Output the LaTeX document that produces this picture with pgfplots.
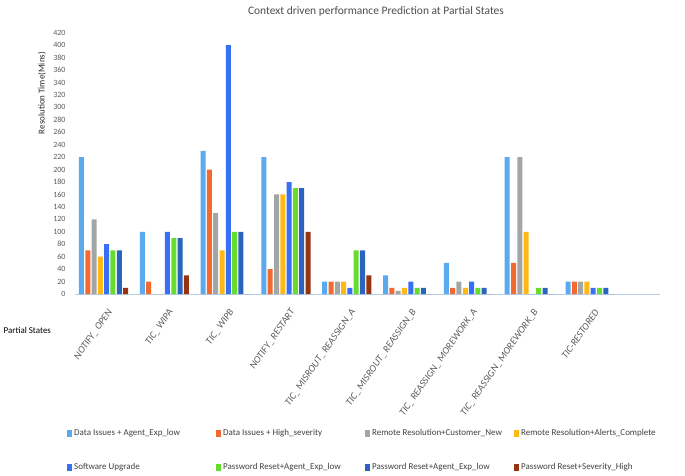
\documentclass[border=0pt]{standalone}
\usepackage{pgfplots}
\pgfplotsset{compat=1.18}
\usepackage{pgfplotstable}
\usepackage{fontspec}
\setmainfont{Carlito}

\definecolor{cA}{RGB}{91,170,240}
\definecolor{cB}{RGB}{242,106,48}
\definecolor{cC}{RGB}{163,166,166}
\definecolor{cD}{RGB}{255,184,20}
\definecolor{cE}{RGB}{55,112,245}
\definecolor{cF}{RGB}{102,220,44}
\definecolor{cG}{RGB}{42,100,192}
\definecolor{cH}{RGB}{150,52,16}
\definecolor{txt}{RGB}{89,89,89}
\definecolor{baseline}{RGB}{180,205,230}

% resolution time (mins) per partial state
\pgfplotstableread{
cat a   b   c   d   e   f   g   h
0   220 70  120 60  80  70  70  10
1   100 20  0   0   100 90  90  30
2   230 200 130 70  400 100 100 0
3   220 40  160 160 180 170 170 100
4   20  20  20  20  10  70  70  30
5   30  10  5   10  20  10  10  0
6   50  10  20  10  20  10  10  0
7   220 50  220 100 0   10  10  0
8   20  20  20  20  10  10  10  0
}\data

\newcommand{\entry}[1]{\makebox[140bp][l]{#1}}

\begin{document}
\begin{tikzpicture}
\useasboundingbox (0,0) rectangle (685bp,476bp);
\begin{axis}[
  at={(75bp,182bp)}, anchor=south west,
  scale only axis,
  width=585bp, height=261.3bp,
  xmin=-0.469, xmax=9.15,
  ymin=0, ymax=420,
  ybar=1.3bp, bar width=5bp,
  axis x line*=bottom, axis y line*=left,
  x axis line style={draw=baseline, line width=1pt},
  y axis line style={draw=none},
  major tick length=0pt,
  ytick={0,20,...,420},
  xtick={0,...,8},
  xticklabels={NOTIFY\_\,OPEN, TIC\_\,WIPA, TIC\_\,WIPB, NOTIFY\_\,RESTART,
    TIC\_\,MISROUT\_\,REASSIGN\_A, TIC\_\,MISROUT\_\,REASSIGN\_B,
    TIC\_\,REASSIGN\_\,MOREWORK\_A, TIC\_\,REASSIGN\_\,MOREWORK\_B, TIC-RESTORED},
  xticklabel style={rotate=55, anchor=east, font=\fontsize{10}{11}\selectfont\itshape,
    text=txt, yshift=-15bp, xshift=-6bp},
  yticklabel style={font=\fontsize{8}{9}\selectfont, text=txt, xshift=-6bp},
  /pgf/number format/assume math mode=true,
  ylabel={Resolution Time(Mins)},
  ylabel style={at={(rel axis cs:-0.0564,0.769)}, anchor=center,
    font=\fontsize{9}{10}\selectfont, text=black!85},
  legend columns=4,
  legend cell align=left,
  legend image code/.code={\fill[#1] (0bp,-3.5bp) rectangle (5bp,3.5bp);},
  legend style={at={(rel axis cs:-0.0137,-0.51)}, anchor=north west,
    draw=none, fill=none, inner sep=0pt, row sep=22bp, column sep=0pt,
    font=\fontsize{9}{10}\selectfont, text=black!75},
  clip=false,
]
\addplot[fill=cA, draw=none] table[x=cat, y=a]{\data};
\addplot[fill=cB, draw=none] table[x=cat, y=b]{\data};
\addplot[fill=cC, draw=none] table[x=cat, y=c]{\data};
\addplot[fill=cD, draw=none] table[x=cat, y=d]{\data};
\addplot[fill=cE, draw=none] table[x=cat, y=e]{\data};
\addplot[fill=cF, draw=none] table[x=cat, y=f]{\data};
\addplot[fill=cG, draw=none] table[x=cat, y=g]{\data};
\addplot[fill=cH, draw=none] table[x=cat, y=h]{\data};
\legend{\entry{Data Issues + Agent\_Exp\_low}, \entry{Data Issues + High\_severity},
  \entry{Remote Resolution+Customer\_New}, \entry{Remote Resolution+Alerts\_Complete},
  \entry{Software Upgrade}, \entry{Password Reset+Agent\_Exp\_low},
  \entry{Password Reset+Agent\_Exp\_low}, \entry{Password Reset+Severity\_High}}

\node[font=\fontsize{11.5}{13}\selectfont, text=black!70] at (rel axis cs:0.5145,1.083)
  {Context driven performance Prediction at Partial States};
\node[font=\fontsize{9}{10}\selectfont, anchor=west] at (rel axis cs:-0.128,-0.14)
  {Partial States};
\end{axis}
\end{tikzpicture}
\end{document}
